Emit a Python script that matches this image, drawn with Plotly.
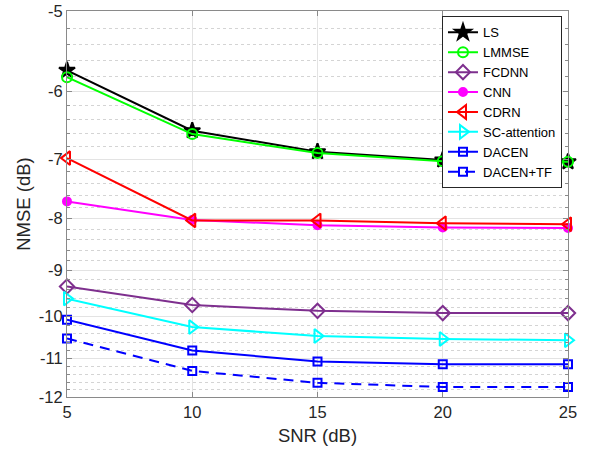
import plotly.graph_objects as go

snr = [5, 10, 15, 20, 25]

ls_vals = [-5.72, -6.56, -6.88, -7.01, -7.04]
lmmse_vals = [-5.81, -6.61, -6.90, -7.03, -7.04]
fcdnn_vals = [-9.34, -9.74, -9.87, -9.92, -9.92]
cnn_vals = [-7.70, -8.03, -8.13, -8.17, -8.18]
cdrn_vals = [-6.98, -8.04, -8.04, -8.09, -8.11]
sc_vals = [-9.60, -10.24, -10.45, -10.52, -10.55]
dacen_vals = [-10.07, -10.80, -11.07, -11.14, -11.14]
dacen_tf_vals = [-10.51, -11.31, -11.62, -11.73, -11.73]

y_ticks = [-5, -6, -7, -8, -9, -10, -11, -12]
x_ticks = [5, 10, 15, 20, 25]

series = [
    ("LS", ls_vals, "#000000", "star", 12, "solid"),
    ("LMMSE", lmmse_vals, "#00ff00", "circle-open", 10, "solid"),
    ("FCDNN", fcdnn_vals, "#7e2f8e", "diamond-open", 11, "solid"),
    ("CNN", cnn_vals, "#ff00ff", "circle", 8, "solid"),
    ("CDRN", cdrn_vals, "#ff0000", "triangle-left-open", 12, "solid"),
    ("SC-attention", sc_vals, "#00ffff", "triangle-right-open", 12, "solid"),
    ("DACEN", dacen_vals, "#0000ff", "square-open", 8, "solid"),
    ("DACEN+TF", dacen_tf_vals, "#0000ff", "square-open", 8, "10px,7px"),
]

fig = go.Figure()
for name, vals, color, sym, size, dash in series:
    fig.add_trace(go.Scatter(
        x=snr, y=[-v for v in vals], name=name, mode="lines+markers",
        line=dict(color=color, width=2, dash=dash),
        marker=dict(symbol=sym, size=size, color=color,
                    line=dict(color=color, width=2)),
        cliponaxis=False,
        customdata=vals, hovertemplate="%{x}, %{customdata}<extra>" + name + "</extra>",
    ))

minor_vals = []
for k in range(5, 12):
    for j in range(1, 5):
        minor_vals.append(k + 0.2 * j)

font_fam = "Arial, Liberation Sans, sans-serif"
fig.update_layout(
    width=592, height=450,
    margin=dict(l=67, r=24, t=11, b=53, autoexpand=False),
    paper_bgcolor="white", plot_bgcolor="white",
    font=dict(family=font_fam, color="#262626", size=16),
    showlegend=True,
    legend=dict(
        x=0.988, y=0.986, xanchor="right", yanchor="top",
        bgcolor="white", bordercolor="#262626", borderwidth=1,
        font=dict(size=13, color="#000000", family=font_fam),
        itemwidth=30, tracegroupgap=0,
    ),
    xaxis=dict(
        range=[5, 25], tickvals=x_ticks, ticktext=[str(t) for t in x_ticks],
        showgrid=True, gridcolor="#e3e3e3", gridwidth=1,
        showline=True, linecolor="#8a8a8a", linewidth=1, mirror="ticks",
        ticks="inside", ticklen=5, tickcolor="#8a8a8a",
        zeroline=False, automargin=False,
        title=dict(text="SNR (dB)", font=dict(size=18.5, color="#262626"), standoff=9),
        tickfont=dict(size=16.5, color="#262626"),
    ),
    yaxis=dict(
        type="log",
        range=[1.0791812460476249, 0.6989700043360189],
        tickvals=[-t for t in y_ticks], ticktext=[str(t) for t in y_ticks],
        showgrid=True, gridcolor="#e3e3e3", gridwidth=1,
        showline=True, linecolor="#8a8a8a", linewidth=1, mirror="ticks",
        ticks="inside", ticklen=5, tickcolor="#8a8a8a",
        zeroline=False, automargin=False,
        minor=dict(tickvals=minor_vals, showgrid=True, gridcolor="#d4d4d4",
                   griddash="dot", gridwidth=1, ticks="inside", ticklen=3,
                   tickcolor="#8a8a8a"),
        title=dict(text="NMSE (dB)", font=dict(size=18.5, color="#262626"), standoff=3),
        tickfont=dict(size=16.5, color="#262626"),
    ),
)

fig.write_html(
    "out.html",
    config={"displayModeBar": False},
    post_script="document.body.style.margin='0';document.body.style.padding='0';",
)
